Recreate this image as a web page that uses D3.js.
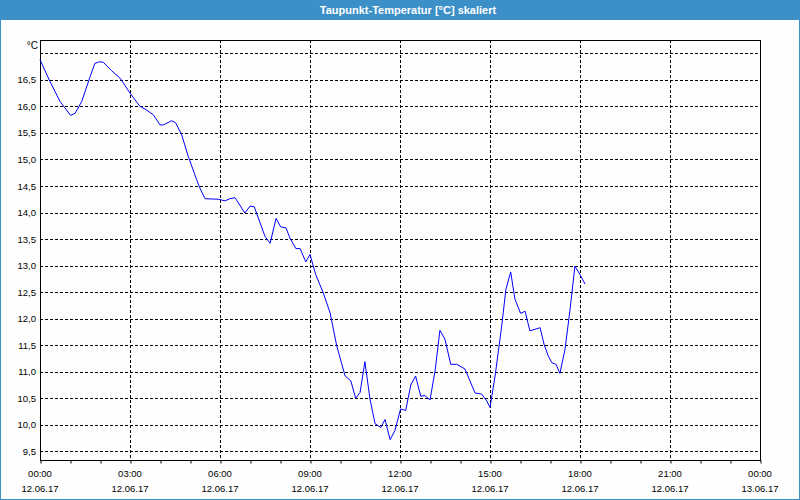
<!DOCTYPE html>
<html>
<head>
<meta charset="utf-8">
<script src="https://cdn.jsdelivr.net/npm/d3@7"></script>
<style>
  body { margin: 0; background: #fff; }
  svg { display: block; }
  text { font-family: "Liberation Sans", Arial, sans-serif; }
</style>
</head>
<body>
<svg id="chart"></svg>
<script>
// data: hours since 12.06.17 00:00 and dew point in °C
var hours = [0, 0.33, 0.67, 1.02, 1.17, 1.39, 1.67, 1.83, 1.98, 2.11, 2.39, 2.67, 3.0, 3.33, 3.5, 3.78, 4.0, 4.11,
  4.39, 4.52, 4.72, 4.94, 5.22, 5.33, 5.5, 5.94, 6.17, 6.33, 6.5, 6.83, 7.0, 7.14, 7.5, 7.67, 7.87, 8.02, 8.2,
  8.33, 8.53, 8.67, 8.86, 9.0, 9.19, 9.44, 9.67, 9.89, 10.17, 10.36, 10.52, 10.67, 10.83, 11.0, 11.17, 11.36,
  11.5, 11.67, 11.83, 12.02, 12.19, 12.36, 12.52, 12.69, 12.83, 13.0, 13.17, 13.33, 13.5, 13.69, 13.89, 14.17,
  14.33, 14.5, 14.72, 14.89, 15.0, 15.17, 15.39, 15.53, 15.69, 15.83, 16.02, 16.17, 16.33, 16.5, 16.67, 16.8,
  16.94, 17.06, 17.2, 17.33, 17.5, 17.67, 17.83, 18.0, 18.17];
var dewpoint = [16.88, 16.47, 16.09, 15.83, 15.87, 16.09, 16.56, 16.81, 16.84, 16.83, 16.67, 16.53, 16.25, 16.0,
  15.95, 15.84, 15.65, 15.65, 15.73, 15.69, 15.47, 15.06, 14.62, 14.46, 14.26, 14.25, 14.22, 14.26, 14.28, 13.99,
  14.12, 14.11, 13.55, 13.42, 13.89, 13.73, 13.71, 13.52, 13.32, 13.32, 13.07, 13.21, 12.83, 12.49, 12.11, 11.49,
  10.92, 10.83, 10.5, 10.61, 11.19, 10.48, 10.02, 9.95, 10.1, 9.72, 9.89, 10.3, 10.27, 10.75, 10.92, 10.54,
  10.55, 10.47, 11.02, 11.78, 11.61, 11.14, 11.14, 11.05, 10.83, 10.6, 10.58, 10.45, 10.33, 10.92, 11.86,
  12.55, 12.88, 12.37, 12.1, 12.14, 11.77, 11.8, 11.83, 11.52, 11.3, 11.17, 11.14, 10.97, 11.42, 12.18, 12.99,
  12.83, 12.65];

var yTicks = [9.5, 10.0, 10.5, 11.0, 11.5, 12.0, 12.5, 13.0, 13.5, 14.0, 14.5, 15.0, 15.5, 16.0, 16.5];
var yGrid = yTicks.concat([17.0]);
var xMajor = [0, 3, 6, 9, 12, 15, 18, 21, 24];
var xTimeLabels = ["00:00", "03:00", "06:00", "09:00", "12:00", "15:00", "18:00", "21:00", "00:00"];
var xDateLabels = ["12.06.17", "12.06.17", "12.06.17", "12.06.17", "12.06.17", "12.06.17", "12.06.17", "12.06.17", "13.06.17"];

var width = 800, height = 500;
var plotLeft = 40, plotRight = 760, plotTop = 40, plotBottom = 460;

var svg = d3.select('#chart').attr('width', width).attr('height', height);

// window frame + title bar
svg.append('rect').attr('x', 0.5).attr('y', 0.5).attr('width', width - 1).attr('height', height - 1)
  .attr('fill', '#fdfefd').attr('stroke', '#3c8fc7');
svg.append('rect').attr('x', 0).attr('y', 0).attr('width', width).attr('height', 20).attr('fill', '#3c8fc7');
svg.append('text').attr('x', 408).attr('y', 14).attr('text-anchor', 'middle')
  .attr('fill', '#fff').style('font-size', '11px').style('font-weight', 'bold')
  .text('Taupunkt-Temperatur [°C] skaliert');

var x = d3.scaleLinear().domain([0, 24]).range([plotLeft, plotRight]);
var y = d3.scaleLinear().domain([9.337, 17.25]).range([plotBottom, plotTop]);

// grid
svg.append('g').selectAll('line').data(yGrid).enter().append('line')
  .attr('x1', plotLeft).attr('x2', plotRight)
  .attr('y1', d => Math.round(y(d)) + 0.5).attr('y2', d => Math.round(y(d)) + 0.5)
  .attr('stroke', '#000').attr('stroke-dasharray', '3,2');
svg.append('g').selectAll('line').data(xMajor.slice(1, -1)).enter().append('line')
  .attr('x1', d => Math.round(x(d)) + 0.5).attr('x2', d => Math.round(x(d)) + 0.5)
  .attr('y1', plotTop).attr('y2', plotBottom)
  .attr('stroke', '#000').attr('stroke-dasharray', '3,2');

// plot frame
svg.append('rect').attr('x', plotLeft + 0.5).attr('y', plotTop + 0.5)
  .attr('width', plotRight - plotLeft).attr('height', plotBottom - plotTop)
  .attr('fill', 'none').attr('stroke', '#000');

// x axis: hourly ticks, labels every 3h
var xAxis = d3.axisBottom(x).tickValues(d3.range(0, 25)).tickSize(3).tickFormat('');
var gx = svg.append('g').attr('transform', 'translate(0.5,' + (plotBottom + 0.5) + ')').call(xAxis);
gx.select('.domain').remove();
gx.selectAll('line').attr('stroke', '#000');

var lbl = svg.append('g').selectAll('g').data(xMajor).enter().append('g');
lbl.append('text').attr('x', d => x(d)).attr('y', 477).attr('text-anchor', 'middle')
  .style('font-size', '9.5px').attr('fill', '#000').text((d, i) => xTimeLabels[i]);
lbl.append('text').attr('x', d => x(d)).attr('y', 492).attr('text-anchor', 'middle')
  .style('font-size', '9.5px').attr('fill', '#000').text((d, i) => xDateLabels[i]);

// y labels
var yAxis = d3.axisLeft(y).tickValues(yTicks).tickSize(0).tickPadding(4)
  .tickFormat(d => d3.format('.1f')(d).replace('.', ','));
var gy = svg.append('g').attr('transform', 'translate(' + plotLeft + ',0)').call(yAxis);
gy.select('.domain').remove();
gy.selectAll('text').style('font-size', '9.5px').style('font-family', '"Liberation Sans", Arial, sans-serif').attr('fill', '#000');

svg.append('text').attr('x', 38).attr('y', 49).attr('text-anchor', 'end')
  .style('font-size', '10px').attr('fill', '#000').text('°C');

// data line
var line = d3.line().x((d, i) => x(hours[i])).y(d => y(d));
svg.append('path').datum(dewpoint).attr('d', line)
  .attr('fill', 'none').attr('stroke', '#0000ff').attr('stroke-width', 1);
</script>
</body>
</html>
